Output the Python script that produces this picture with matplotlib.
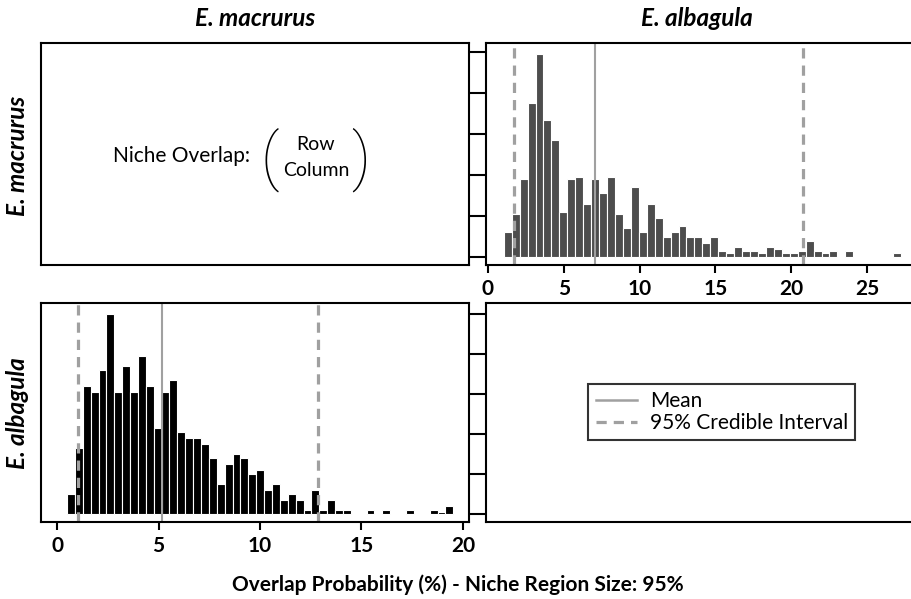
import numpy as np
import matplotlib
matplotlib.use("Agg")
import matplotlib.pyplot as plt
from matplotlib.lines import Line2D

plt.rcParams["font.family"] = ["Lato", "DejaVu Sans"]

# species order for rows / columns
species = ["E. macrurus", "E. albagula"]

# overlap of E. macrurus niche onto E. albagula (row 1, column 2)
ma_bin_start = 1.04
ma_bin_width = 0.524
ma_counts = [12, 21, 38, 75, 99, 67, 57, 22, 38, 39,
             26, 38, 31, 39, 21, 14, 34, 12, 26, 19,
             10, 12, 15, 10, 10, 7, 10, 3, 2, 5,
             3, 3, 2, 5, 4, 2, 2, 3, 8, 3,
             2, 3, 0, 3, 0, 0, 0, 0, 0, 2]
ma_mean = 7.05
ma_ci = [1.7, 20.8]

# overlap of E. albagula niche onto E. macrurus (row 2, column 1)
al_bin_start = 0.49
al_bin_width = 0.3885
al_counts = [10, 33, 64, 61, 72, 100, 61, 74, 61, 79,
             64, 43, 61, 67, 41, 38, 38, 35, 28, 15,
             25, 30, 28, 20, 22, 12, 15, 7, 10, 7,
             2, 12, 2, 7, 2, 2, 0, 0, 2, 0,
             2, 0, 0, 2, 0, 0, 2, 1, 4]
al_mean = 5.17
al_ci = [1.02, 12.86]

W, H = 912, 599
fig = plt.figure(figsize=(W / 100, H / 100), dpi=100)


def add_ax(x0, y0, x1, y1):
    return fig.add_axes([x0 / W, 1 - y1 / H, (x1 - x0) / W, (y1 - y0) / H])


ax_tl = add_ax(41, 43, 469, 265)
ax_tr = add_ax(486, 43, 914, 265)
ax_bl = add_ax(41, 303, 469, 522)
ax_br = add_ax(486, 303, 914, 522)

for ax in (ax_tl, ax_tr, ax_bl, ax_br):
    for s in ax.spines.values():
        s.set_linewidth(1.5)
        s.set_color("black")
    ax.set_xticks([])
    ax.set_yticks([])

line_col = "#a0a0a0"


def hist_panel(ax, start, width, counts, mean, ci, color):
    edges = start + width * np.arange(len(counts))
    ax.bar(edges, counts, width=width, align="edge", color=color,
           edgecolor="white", linewidth=0.8)
    ax.axvline(mean, color=line_col, lw=1.5)
    for v in ci:
        ax.axvline(v, color=line_col, lw=2.3, dashes=(3.2, 2.2))


hist_panel(ax_tr, ma_bin_start, ma_bin_width, ma_counts, ma_mean, ma_ci, "#4d4d4d")
hist_panel(ax_bl, al_bin_start, al_bin_width, al_counts, al_mean, al_ci, "black")

ax_tr.set_xlim(-0.13, 28.1)
ax_tr.set_ylim(-3.9, 104.4)
ax_bl.set_xlim(-0.79, 20.3)
ax_bl.set_ylim(-4.0, 105.4)
ax_br.set_ylim(ax_bl.get_ylim())
ax_br.set_xlim(0, 1)

for ax, ticks in ((ax_tr, list(range(0, 30, 5))), (ax_bl, list(range(0, 25, 5)))):
    ax.set_xticks(ticks)
    ax.set_xticklabels([str(t) for t in ticks], fontweight="bold", fontsize=15)
    ax.tick_params(axis="x", direction="out", length=6, width=1.5, pad=4)

for ax in (ax_tr, ax_br):
    ax.set_yticks(range(0, 120, 20))
    ax.set_yticklabels([])
    ax.tick_params(axis="y", direction="out", length=12.5, width=1.5)

# niche overlap key in the top-left panel
tl = ax_tl.transAxes
ax_tl.text((113 - 41) / 428, (265 - 156) / 222, "Niche Overlap:", transform=tl,
           ha="left", va="center", fontsize=15)
paren = dict(transform=tl, ha="center", va="center", fontsize=45,
             family=["Roboto", "DejaVu Sans"], fontweight="light")
ax_tl.text((270 - 41) / 428, (265 - 160) / 222, "(", **paren)
ax_tl.text((361 - 41) / 428, (265 - 160) / 222, ")", **paren)
ax_tl.text((316 - 41) / 428, (265 - 145) / 222, "Row", transform=tl,
           ha="center", va="center", fontsize=14)
ax_tl.text((316 - 41) / 428, (265 - 170) / 222, "Column", transform=tl,
           ha="center", va="center", fontsize=14)

# column and row headers
hdr = dict(fontsize=17.5, fontweight="bold", style="italic", ha="center", va="center")
fig.text(255 / W, 1 - 18 / H, species[0], **hdr)
fig.text(697 / W, 1 - 18 / H, species[1], **hdr)
fig.text(18 / W, 1 - 156 / H, species[0], rotation=90, **hdr)
fig.text(18 / W, 1 - 413 / H, species[1], rotation=90, **hdr)

fig.text(458 / W, 1 - 585 / H, "Overlap Probability (%) - Niche Region Size: 95%",
         ha="center", va="center", fontsize=15, fontweight="bold")

handles = [Line2D([], [], color=line_col, lw=1.8),
           Line2D([], [], color=line_col, lw=2.3, dashes=(3.2, 2.2))]
leg = ax_br.legend(handles, ["Mean", "95% Credible Interval"],
                   loc="center", bbox_to_anchor=(0.551, 0.502),
                   fontsize=15, frameon=True, fancybox=False,
                   handlelength=2.0, handletextpad=0.6, borderpad=0.35,
                   labelspacing=0.1, borderaxespad=0)
leg.get_frame().set_edgecolor("black")
leg.get_frame().set_linewidth(1.5)

fig.savefig("out.png", dpi=100)
